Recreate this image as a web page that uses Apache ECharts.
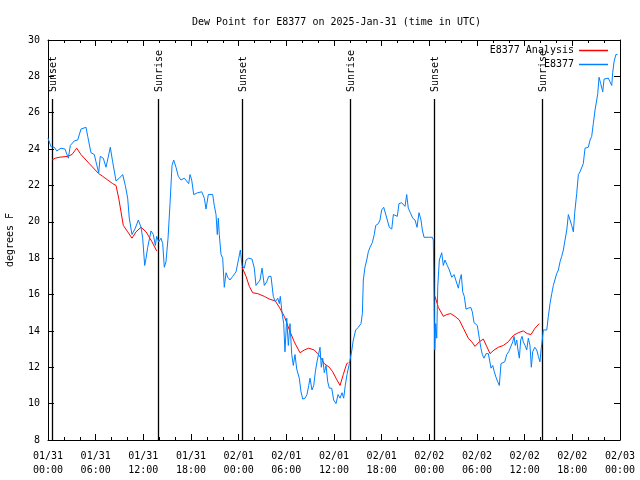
<!DOCTYPE html>
<html><head><meta charset="utf-8">
<script src="https://cdn.jsdelivr.net/npm/echarts@6/dist/echarts.min.js"></script>
<style>html,body{margin:0;padding:0;background:#fff}#c{width:640px;height:480px}</style>
</head><body><div id="c"></div>
<script>
// Hours after 2025-01-31 00:00 UTC
const stationHours = [0.0,0.09,0.38,0.79,1.10,1.64,2.14,2.56,2.81,3.31,3.74,4.15,4.78,5.00,5.41,5.83,6.04,6.38,6.58,6.96,7.30,7.55,7.84,8.14,8.56,8.98,9.40,9.73,10.03,10.23,10.57,10.99,11.37,11.71,11.92,12.17,12.34,12.55,12.97,13.26,13.51,13.68,13.94,14.22,14.44,14.64,14.85,15.11,15.36,15.61,15.82,16.11,16.40,16.74,17.16,17.37,17.71,17.88,18.09,18.34,18.84,19.35,19.68,19.89,20.18,20.73,20.93,21.15,21.31,21.44,21.56,21.78,21.99,22.19,22.41,22.62,22.91,23.25,23.67,24.01,24.21,24.42,24.71,24.93,25.26,25.68,25.97,26.18,26.40,26.69,26.94,27.23,27.53,27.78,28.07,28.36,28.61,28.92,29.12,29.24,29.46,29.67,29.83,30.05,30.25,30.46,30.68,30.88,31.09,31.31,31.47,31.63,31.85,32.06,32.35,32.60,32.82,32.98,33.23,33.45,33.65,33.86,34.08,34.24,34.40,34.58,34.78,35.00,35.21,35.41,35.71,35.96,36.25,36.51,36.76,37.01,37.22,37.42,37.64,37.93,38.23,38.43,38.73,39.06,39.40,39.57,39.69,39.90,40.12,40.32,40.53,40.82,41.07,41.25,41.58,41.79,42.00,42.26,42.51,42.71,42.96,43.27,43.47,43.68,43.97,44.18,44.52,44.73,44.94,45.15,45.35,45.61,45.91,46.20,46.45,46.70,46.95,47.12,47.33,47.87,48.38,48.50,48.55,48.68,48.80,48.93,49.06,49.26,49.56,49.76,49.97,50.26,50.52,50.82,51.11,51.36,51.65,51.86,52.03,52.20,52.40,52.62,52.91,53.21,53.41,53.63,53.88,54.04,54.29,54.47,54.67,54.88,55.14,55.43,55.64,55.77,55.98,56.18,56.39,56.61,56.81,57.02,57.24,57.49,57.74,57.99,58.24,58.50,58.66,58.82,59.00,59.16,59.33,59.50,59.67,59.83,60.05,60.26,60.46,60.67,60.84,61.01,61.27,61.52,61.72,61.93,62.06,62.19,62.35,62.78,62.98,63.19,63.41,63.61,63.82,64.03,64.24,64.45,64.66,64.87,65.08,65.30,65.50,65.71,65.92,66.13,66.30,66.55,66.76,66.97,67.18,67.38,67.60,68.01,68.23,68.44,68.64,68.86,69.07,69.20,69.36,69.57,69.83,69.99,70.24,70.53,70.74,70.96,71.08,71.25,71.48,71.68];
const stationValues = [24.6,24.55,24.13,24.1,23.9,24.05,24.0,23.5,24.2,24.45,24.5,25.1,25.2,24.7,23.8,23.7,23.3,22.7,23.6,23.5,23.0,23.5,24.1,23.3,22.25,22.4,22.6,22.0,21.3,20.2,19.3,19.65,20.1,19.7,19.1,17.6,18.0,18.6,19.5,19.3,18.7,19.2,18.9,19.1,18.8,17.5,17.8,19.1,21.0,23.1,23.4,23.0,22.5,22.3,22.4,22.3,22.1,22.6,22.3,21.5,21.6,21.65,21.3,20.7,21.5,21.5,20.9,20.4,19.3,20.2,19.3,18.2,18.0,16.4,17.2,16.95,16.8,17.0,17.25,18.0,18.45,17.6,17.45,17.9,18.0,17.95,17.45,16.5,16.6,16.8,17.45,16.5,16.7,17.0,17.0,15.9,15.6,15.8,15.5,15.9,15.0,14.4,12.85,14.7,13.2,14.4,12.7,12.1,12.7,11.9,12.0,11.4,10.65,10.25,10.3,10.5,11.0,11.4,10.75,11.0,11.75,12.3,12.3,13.1,12.0,12.5,11.7,12.1,11.2,10.85,10.85,10.2,10.0,10.5,10.3,10.6,10.3,11.0,11.6,12.2,12.9,13.5,14.05,14.2,14.4,14.95,16.8,17.5,17.9,18.35,18.6,18.85,19.3,19.8,19.9,20.1,20.65,20.8,20.75,20.1,19.7,19.6,20.4,20.5,20.3,21.0,21.05,21.05,20.85,21.5,20.75,20.5,20.2,20.1,19.7,20.5,20.1,19.55,19.15,19.15,19.15,19.0,17.45,12.95,14.4,13.6,16.45,17.9,18.3,17.6,17.9,17.6,17.35,16.95,17.1,17.0,16.35,16.85,17.1,16.15,15.9,15.2,15.25,15.3,15.05,14.45,14.5,14.3,13.6,13.1,12.7,12.5,12.75,12.75,12.75,11.95,12.1,11.75,11.45,11.2,11.0,12.2,12.1,12.3,12.7,12.85,12.85,13.4,13.7,13.2,13.5,12.95,12.5,13.5,13.7,13.4,13.2,12.95,13.6,13.2,12.0,12.85,13.1,12.95,12.6,12.3,12.95,13.4,14.05,14.05,14.8,15.5,16.05,16.5,16.4,17.15,17.35,17.8,18.1,18.45,19.0,19.55,20.4,20.3,19.8,19.45,20.5,21.55,22.6,22.75,22.7,23.2,24.05,24.1,24.5,24.7,25.4,26.15,26.7,27.05,27.95,27.6,27.15,27.85,27.95,27.9,27.7,27.5,28.2,28.8,29.2,29.2];

// null marks a gap in the analysis line
const analysisHours = [0.50,0.92,1.42,2.48,3.02,3.61,4.15,5.20,6.38,6.89,7.52,8.14,8.56,8.90,9.19,9.48,10.03,10.57,11.08,11.71,12.34,13.09,13.68,19.0,
  24.42,24.93,25.34,25.77,26.40,27.23,27.86,28.61,29.12,29.75,30.38,31.00,31.72,32.26,32.82,33.52,33.95,34.37,34.78,35.41,35.84,36.25,36.76,37.17,37.60,37.80,43.0,
  48.72,49.13,49.76,50.19,50.69,51.23,51.78,52.28,52.91,53.34,53.75,54.29,54.80,55.22,55.64,56.14,56.68,57.31,57.94,58.57,59.20,59.83,60.33,60.80,61.30,61.84];
const analysisValues = [23.4,23.5,23.55,23.6,23.7,24.05,23.7,23.2,22.65,22.5,22.3,22.1,22.0,21.3,20.55,19.8,19.45,19.1,19.45,19.7,19.45,18.9,18.4,null,
  17.5,17.0,16.45,16.1,16.05,15.9,15.75,15.65,15.3,14.8,14.05,13.4,12.8,12.95,13.05,12.95,12.75,12.5,12.2,12.0,11.75,11.4,11.0,11.6,12.2,12.25,null,
  15.9,15.3,14.8,14.9,14.95,14.8,14.6,14.15,13.6,13.4,13.15,13.4,13.55,13.15,12.75,12.95,13.1,13.2,13.4,13.75,13.9,14.0,13.85,13.8,14.15,14.4];

const eventHours = [0.47, 13.87, 24.45, 38.05, 48.63, 62.23];
const eventLabels = ['Sunset','Sunrise','Sunset','Sunrise','Sunset','Sunrise'];

const xTickStep = 6;
const yTicks = [8,10,12,14,16,18,20,22,24,26,28,30];

const FONT = 'DejaVu Sans Mono';
const chart = echarts.init(document.getElementById('c'), null, {renderer: 'canvas'});

function fmtHour(h) {
  const d = new Date(Date.UTC(2025, 0, 31) + h * 3600000);
  const p = n => String(n).padStart(2, '0');
  return p(d.getUTCMonth() + 1) + '/' + p(d.getUTCDate()) + '\n' + p(d.getUTCHours()) + ':' + p(d.getUTCMinutes());
}

const axisBase = {
  type: 'value', min: 0, max: 72, interval: xTickStep,
  axisLine: {show: true, onZero: false, lineStyle: {color: '#000', width: 1}},
  axisTick: {show: true, inside: true, length: 6, lineStyle: {color: '#000'}},
  minorTick: {show: true, splitNumber: 3, length: 3, lineStyle: {color: '#000'}},
  splitLine: {show: false}
};
const yBase = {
  type: 'value', min: yTicks[0], max: yTicks[yTicks.length - 1], interval: 2,
  axisLine: {show: true, onZero: false, lineStyle: {color: '#000', width: 1}},
  axisTick: {show: true, inside: true, length: 6, lineStyle: {color: '#000'}},
  splitLine: {show: false}
};

chart.setOption({
  animation: false,
  backgroundColor: '#fff',
  title: {
    text: 'Dew Point for E8377 on 2025-Jan-31 (time in UTC)',
    left: 187, top: 12,
    textStyle: {fontFamily: FONT, fontSize: 10, fontWeight: 'normal', color: '#000'}
  },
  legend: {
    orient: 'vertical', right: 27, top: 39, itemGap: 1,
    itemWidth: 29, itemHeight: 1.5, icon: 'rect', align: 'right',
    data: ['E8377 Analysis', 'E8377'],
    textStyle: {fontFamily: FONT, fontSize: 10, color: '#000', width: 86, align: 'right', lineHeight: 13}
  },
  grid: {left: 48, right: 20, top: 40, bottom: 40, containLabel: false, outerBoundsMode: 'none'},
  xAxis: [
    Object.assign({}, axisBase, {
      position: 'bottom',
      axisLabel: {show: true, formatter: fmtHour, fontFamily: FONT, fontSize: 10, color: '#000', lineHeight: 14, margin: 9}
    }),
    Object.assign({}, axisBase, {position: 'top', axisLabel: {show: false}})
  ],
  yAxis: [
    Object.assign({}, yBase, {
      position: 'left',
      name: 'degrees F', nameLocation: 'middle', nameGap: 33, nameRotate: 90,
      nameTextStyle: {fontFamily: FONT, fontSize: 10, color: '#000'},
      axisLabel: {show: true, fontFamily: FONT, fontSize: 10, color: '#000', margin: 8}
    }),
    Object.assign({}, yBase, {position: 'right', axisLabel: {show: false}})
  ],
  series: [
    {
      name: 'E8377 Analysis', type: 'line', symbol: 'none', showSymbol: false,
      connectNulls: false,
      lineStyle: {color: '#ff0000', width: 1}, itemStyle: {color: '#ff0000'},
      data: analysisHours.map((h, i) => analysisValues[i] === null ? [h, '-'] : [h, analysisValues[i]])
    },
    {
      name: 'E8377', type: 'line', symbol: 'none', showSymbol: false,
      lineStyle: {color: '#0080ff', width: 1}, itemStyle: {color: '#0080ff'},
      data: stationHours.map((h, i) => [h, stationValues[i]])
    },
    {
      name: 'events', type: 'custom', silent: true, clip: false,
      data: eventHours.map(h => [h]),
      encode: {x: 0},
      renderItem: function (params, api) {
        const h = api.value(0);
        const top = api.coord([h, 26.75]);
        const bot = api.coord([h, 8]);
        const x = Math.round(top[0]) + 0.5;
        return {
          type: 'group',
          children: [
            {type: 'line', shape: {x1: x, y1: top[1], x2: x, y2: bot[1]}, style: {stroke: '#000', lineWidth: 1.3}},
            {type: 'text', x: x + 0.5, y: top[1] - 7, rotation: Math.PI / 2,
             style: {text: eventLabels[params.dataIndex], fontFamily: FONT, fontSize: 10, fill: '#000', align: 'left', verticalAlign: 'middle'}}
          ]
        };
      }
    }
  ]
});
</script>
</body></html>
